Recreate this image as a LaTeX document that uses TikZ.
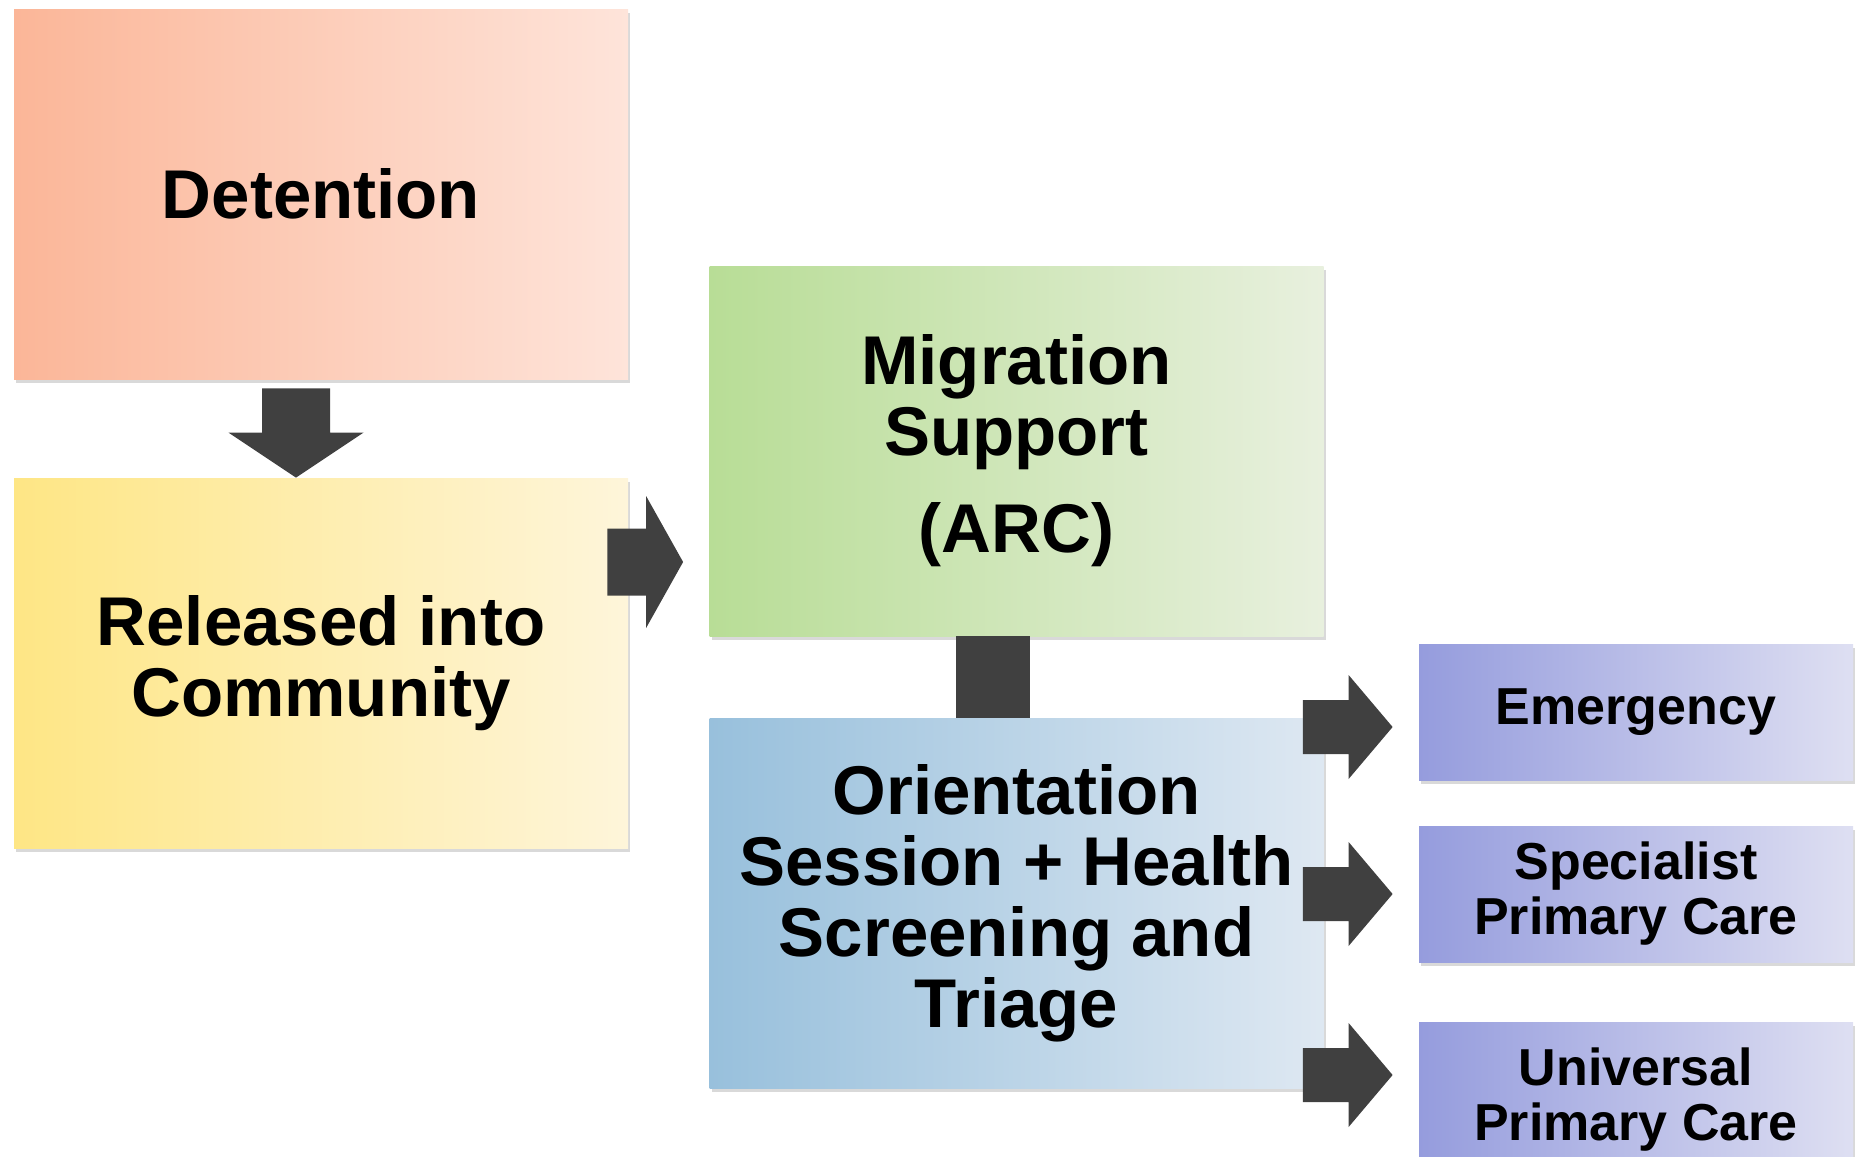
\documentclass[tikz,border=0pt]{standalone}
\usepackage{fontspec}
\setmainfont{Liberation Sans}
\usetikzlibrary{calc,shadows}

\definecolor{detL}{RGB}{251,182,152}
\definecolor{detR}{RGB}{254,228,218}
\definecolor{relL}{RGB}{254,230,133}
\definecolor{relR}{RGB}{254,245,218}
\definecolor{migL}{RGB}{184,221,150}
\definecolor{migR}{RGB}{232,240,222}
\definecolor{oriL}{RGB}{152,192,220}
\definecolor{oriR}{RGB}{222,232,242}
\definecolor{outL}{RGB}{149,156,221}
\definecolor{outR}{RGB}{222,223,242}
\definecolor{arrowgray}{RGB}{64,64,64}

% block arrows: tail, tip, shaft half width, head half width, head length
\newcommand{\rightblock}[5]{%
  \fill[blockarrow] let \p1=(#1), \p2=(#2) in
    (\x1,\y1+#3) -- (\x2-#5,\y1+#3) -- (\x2-#5,\y1+#4) -- (\x2,\y2)
    -- (\x2-#5,\y1-#4) -- (\x2-#5,\y1-#3) -- (\x1,\y1-#3) -- cycle;}
\newcommand{\downblock}[5]{%
  \fill[blockarrow] let \p1=(#1), \p2=(#2) in
    (\x1-#3,\y1) -- (\x1-#3,\y2+#5) -- (\x1-#4,\y2+#5) -- (\x2,\y2)
    -- (\x1+#4,\y2+#5) -- (\x1+#3,\y2+#5) -- (\x1+#3,\y1) -- cycle;}

\begin{document}
\begin{tikzpicture}[x=0.5pt, y=-0.5pt,
  box/.style={minimum width=307pt, minimum height=185pt, inner sep=0pt, align=center,
    font=\fontsize{34.5}{35.5}\selectfont\bfseries,
    drop shadow={shadow xshift=1pt, shadow yshift=-2pt, opacity=0.3}},
  outbox/.style={box, minimum width=217pt, minimum height=68pt,
    font=\fontsize{26}{27.5}\selectfont\bfseries, left color=outL, right color=outR},
  blockarrow/.style={fill=arrowgray}]
\useasboundingbox (0,0) rectangle (1859,1157);
\clip (0,0) rectangle (1859,1157);

% stages
\node[box, left color=detL, right color=detR] (det) at (321,194) {Detention};
\node[box, left color=relL, right color=relR] (rel) at (321,663) {Released into\\Community};
\node[box, left color=migL, right color=migR] (mig) at (1016.5,451) {Migration\\Support\\[13pt](ARC)};
\node[box, left color=oriL, right color=oriR] (ori) at (1016.5,903) {Orientation\\Session + Health\\Screening and\\Triage};

% outcomes
\node[outbox] (em) at (1636,712) {Emergency};
\node[outbox] (spec) at (1636,894) {Specialist\\Primary Care};
\node[outbox, minimum height=78pt] (uni) at (1636,1100) {Universal\\Primary Care};

% arrows
\downblock{$(det.south)+(-25,9)$}{$(rel.north)+(-25,0)$}{17pt}{33.75pt}{22.5pt}
\rightblock{$(rel.east)+(-21,-101)$}{$(mig.west)+(-26,111)$}{16.75pt}{33pt}{18.5pt}
\fill[blockarrow] ($(mig.south)+(-60.5,0)$) rectangle ($(ori.north)+(13.5,0)$);
\rightblock{$(ori.east)+(-21,-176)$}{$(em.west)+(-26,15)$}{13.5pt}{26pt}{22pt}
\rightblock{$(ori.east)+(-21,-9)$}{$(spec.west)+(-26,0)$}{13.5pt}{26pt}{22pt}
\rightblock{$(ori.east)+(-21,172)$}{$(uni.west)+(-26,-25)$}{13.5pt}{26pt}{22pt}
\end{tikzpicture}
\end{document}
